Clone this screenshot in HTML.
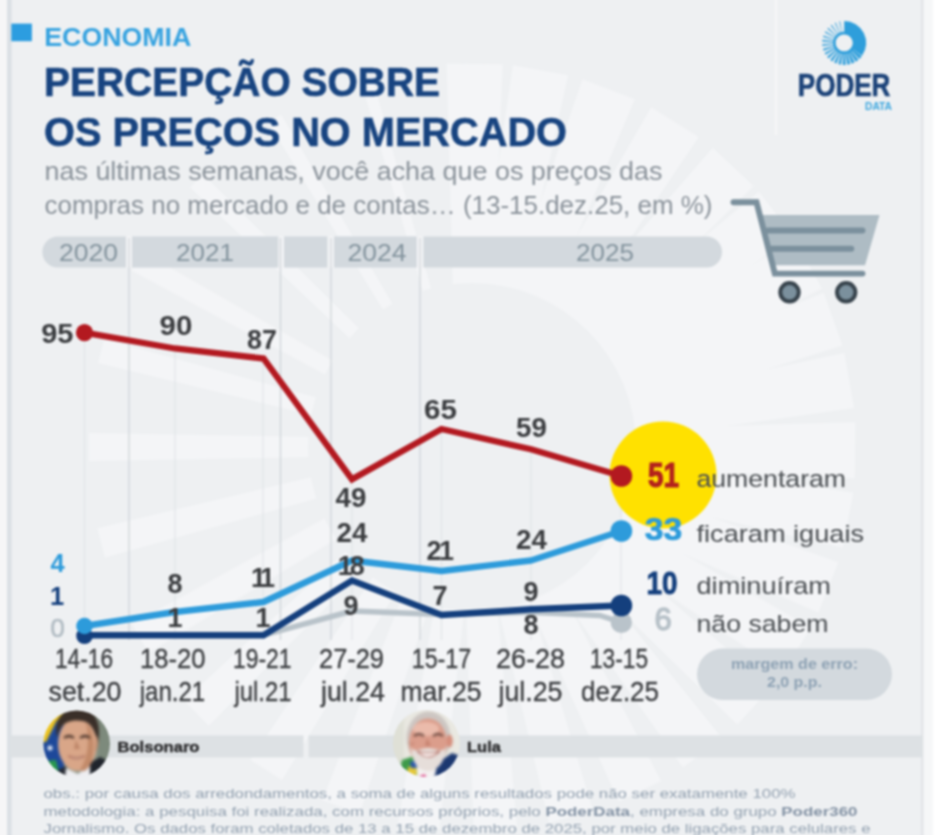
<!DOCTYPE html>
<html lang="pt-BR">
<head>
<meta charset="utf-8">
<title>Percepção sobre os preços no mercado</title>
<style>
html,body{margin:0;padding:0;background:#fbfbfb;}
body{width:936px;height:835px;overflow:hidden;position:relative;}
svg{display:block;position:absolute;left:0;top:0;}
text{font-family:"Liberation Sans",Arial,sans-serif;}
.b{font-weight:bold;}
.lab{font-weight:bold;font-size:27px;fill:#3b3d40;text-anchor:middle;}
.ax{font-size:27.5px;fill:#3d3f42;stroke:#3d3f42;stroke-width:0.35px;text-anchor:middle;}
.yr{font-size:24px;fill:#84949e;text-anchor:middle;}
.leg{font-size:24.5px;fill:#4a4e52;}
.big{font-size:34.5px;font-weight:bold;}
.foot{font-size:13.3px;fill:#94a2b1;}
.foot .b{fill:#8493a5;}
</style>
</head>
<body>
<svg id="g" width="936" height="835" viewBox="0 0 936 835">
<defs>
<filter id="soft" x="-5%" y="-5%" width="110%" height="110%" color-interpolation-filters="sRGB"><feGaussianBlur stdDeviation="0.8"/></filter>
<filter id="pblur" x="-10%" y="-10%" width="120%" height="120%" color-interpolation-filters="sRGB"><feGaussianBlur stdDeviation="1.1"/></filter>
<clipPath id="c1"><circle cx="76.7" cy="743.7" r="33.3"/></clipPath>
<clipPath id="c2"><circle cx="426.4" cy="743.5" r="33.5"/></clipPath>
</defs>
<g filter="url(#soft)">
<!-- page background -->
<rect x="-5" y="-5" width="946" height="845" fill="#fbfbfb"/>
<rect x="-5" y="-5" width="928" height="845" fill="#eef0f2"/>
<!-- watermark -->
<g fill="#f4f5f7">
<polygon points="451.8,287 492.2,287 500.0,64 444.0,64" transform="rotate(0.4 472 447)"/>
<polygon points="451.8,287 492.2,287 500.0,64 444.0,64" transform="rotate(10.3 472 447)"/>
<polygon points="451.8,287 492.2,287 500.0,64 444.0,64" transform="rotate(20.9 472 447)"/>
<polygon points="451.8,287 492.2,287 500.0,64 444.0,64" transform="rotate(32.0 472 447)"/>
<polygon points="451.8,287 492.2,287 500.0,64 444.0,64" transform="rotate(43.0 472 447)"/>
<polygon points="451.8,287 492.2,287 500.0,64 444.0,64" transform="rotate(52.5 472 447)"/>
<polygon points="451.8,287 492.2,287 500.0,64 444.0,64" transform="rotate(61.5 472 447)"/>
<polygon points="451.8,287 492.2,287 500.0,64 444.0,64" transform="rotate(70.5 472 447)"/>
<polygon points="451.8,287 492.2,287 500.0,64 444.0,64" transform="rotate(80.0 472 447)"/>
<polygon points="451.8,287 492.2,287 500.0,64 444.0,64" transform="rotate(90.5 472 447)"/>
<polygon points="451.9,287 492.1,287 499.9,64 444.1,64" transform="rotate(101.0 472 447)"/>
<polygon points="452.5,287 491.5,287 499.1,64 444.9,64" transform="rotate(111.5 472 447)"/>
<polygon points="453.1,287 490.9,287 498.2,64 445.8,64" transform="rotate(122.0 472 447)"/>
<polygon points="453.8,287 490.2,287 497.3,64 446.7,64" transform="rotate(132.5 472 447)"/>
<polygon points="454.4,287 489.6,287 496.5,64 447.5,64" transform="rotate(143.0 472 447)"/>
<polygon points="455.0,287 489.0,287 495.6,64 448.4,64" transform="rotate(154.0 472 447)"/>
<polygon points="455.7,287 488.3,287 494.6,64 449.4,64" transform="rotate(165.0 472 447)"/>
<polygon points="456.4,287 487.6,287 493.7,64 450.3,64" transform="rotate(176.5 472 447)"/>
<polygon points="457.1,287 486.9,287 492.8,64 451.2,64" transform="rotate(188.0 472 447)"/>
<polygon points="457.8,287 486.2,287 491.8,64 452.2,64" transform="rotate(200.0 472 447)"/>
<polygon points="458.5,287 485.5,287 490.7,64 453.3,64" transform="rotate(212.5 472 447)"/>
<polygon points="459.3,287 484.7,287 489.6,64 454.4,64" transform="rotate(226.0 472 447)"/>
<polygon points="460.1,287 483.9,287 488.5,64 455.5,64" transform="rotate(240.0 472 447)"/>
<polygon points="461.1,287 482.9,287 487.2,64 456.8,64" transform="rotate(255.5 472 447)"/>
<polygon points="461.9,287 482.1,287 486.0,64 458.0,64" transform="rotate(270.0 472 447)"/>
<polygon points="463.0,287 481.0,287 484.4,64 459.6,64" transform="rotate(284.5 472 447)"/>
<polygon points="464.2,287 479.8,287 482.9,64 461.1,64" transform="rotate(299.0 472 447)"/>
<polygon points="465.3,287 478.7,287 481.2,64 462.8,64" transform="rotate(314.0 472 447)"/>
<polygon points="466.5,287 477.5,287 479.6,64 464.4,64" transform="rotate(329.0 472 447)"/>
<polygon points="467.7,287 476.3,287 478.0,64 466.0,64" transform="rotate(344.0 472 447)"/>
</g>
<circle cx="472" cy="447" r="164" fill="#eef0f2"/>
<rect x="921.4" y="-5" width="2.2" height="845" fill="#dfe1e4"/>
<rect x="923.6" y="-5" width="10" height="845" fill="#f6f7f8"/>
<rect x="933" y="-5" width="10" height="845" fill="#ffffff"/>
<rect x="-5" y="-5" width="12" height="845" fill="#f6f6f7"/>
<rect x="7" y="-5" width="4.6" height="845" fill="#dbe0e5"/>
<rect x="775" y="-5" width="2" height="140" fill="#f6f7f8"/>

<!-- header -->
<rect x="11.3" y="23.6" width="20.6" height="17.6" fill="#2c9de0"/>
<text x="44.3" y="46.4" font-size="25.5" class="b" fill="#37a3e0" textLength="147" lengthAdjust="spacingAndGlyphs">ECONOMIA</text>
<text x="44" y="96.3" font-size="40.5" class="b" fill="#184480" stroke="#184480" stroke-width="0.6" textLength="396" lengthAdjust="spacingAndGlyphs">PERCEPÇÃO SOBRE</text>
<text x="44" y="146.3" font-size="40.5" class="b" fill="#184480" stroke="#184480" stroke-width="0.6" textLength="523" lengthAdjust="spacingAndGlyphs">OS PREÇOS NO MERCADO</text>
<text x="44.5" y="179.9" font-size="25.5" fill="#8b939b" textLength="618" lengthAdjust="spacingAndGlyphs">nas últimas semanas, você acha que os preços das</text>
<text x="44.5" y="214.3" font-size="25.5" fill="#8b939b" textLength="668" lengthAdjust="spacingAndGlyphs">compras no mercado e de contas… (13-15.dez.25, em %)</text>

<!-- cart -->
<polygon points="761.8,215 879.5,215 865,265.3 773,265.3" fill="#aebcc4"/>
<g fill="none" stroke="#7b909d" stroke-width="5.9" stroke-linecap="round" stroke-linejoin="miter">
<polyline points="733.5,202.2 756.5,202.2 774.8,273.6 862.5,273.6"/>
<line x1="768" y1="230.5" x2="862.5" y2="230.5"/>
<line x1="772" y1="248.7" x2="851.3" y2="248.7"/>
</g>
<circle cx="789.5" cy="292.3" r="9.2" fill="#7b909d" stroke="#38444d" stroke-width="4"/>
<circle cx="846.2" cy="292.3" r="9.2" fill="#7b909d" stroke="#38444d" stroke-width="4"/>
<!-- logo -->
<g fill="#2e9edb">
<polygon points="850.1,49.3 859.4,58.9 861.7,56.3 851.2,48.1"/>
<polygon points="848.7,50.4 855.8,61.7 858.5,59.7 849.9,49.5"/>
<polygon points="847.1,51.1 851.7,63.7 854.6,62.3 848.4,50.6"/>
<polygon points="845.3,51.6 847.3,64.7 850.3,64.1 846.7,51.3"/>
<polygon points="843.5,51.6 842.7,64.9 845.7,64.9 844.9,51.6"/>
<polygon points="841.8,51.3 838.3,64.1 841.0,64.7 843.0,51.5"/>
<polygon points="840.1,50.6 834.1,62.5 836.5,63.5 841.2,51.1"/>
<polygon points="838.6,49.6 830.3,60.0 832.3,61.4 839.5,50.3"/>
<polygon points="837.4,48.3 827.1,56.8 828.6,58.5 838.1,49.1"/>
<polygon points="836.4,46.8 824.6,53.0 825.7,54.8 836.9,47.7"/>
<polygon points="835.8,45.2 823.0,48.7 823.6,50.7 836.1,46.0"/>
<polygon points="835.5,43.4 822.2,44.3 822.4,46.1 835.6,44.2"/>
<polygon points="835.6,41.6 822.4,39.7 822.2,41.5 835.5,42.4"/>
<polygon points="836.0,39.9 823.5,35.4 823.0,36.9 835.8,40.5"/>
<polygon points="836.8,38.3 825.5,31.3 824.8,32.5 836.5,38.8"/>
<polygon points="837.9,36.9 828.3,27.7 827.4,28.7 837.5,37.3"/>
<polygon points="839.3,35.7 831.7,24.8 830.8,25.4 838.9,36.0"/>
<polygon points="840.9,34.9 835.7,22.6 834.8,23.0 840.4,35.0"/>
<polygon points="842.6,34.3 840.1,21.3 839.2,21.5 842.2,34.4"/>
</g>
<path d="M844.2 20.9A22 22 0 0 1 862.0 55.8L851.2 48.0A8.7 8.7 0 0 0 844.2 34.2Z" fill="#2e9edb"/>
<circle cx="844.2" cy="42.9" r="9.899999999999999" fill="none" stroke="#2e9edb" stroke-width="2.4"/>
<text x="797.8" y="95.8" font-size="32" class="b" fill="#1c4379" stroke="#1c4379" stroke-width="0.7" textLength="92.5" lengthAdjust="spacingAndGlyphs">PODER</text>
<text x="865" y="109.7" font-size="10.5" class="b" fill="#3aa5de" textLength="27" lengthAdjust="spacingAndGlyphs">DATA</text>
<!-- year bar -->
<rect x="125" y="236.4" width="300" height="31.2" fill="#f3f4f6"/>
<path d="M58 236.4H126V267.6H58A15.6 15.6 0 0 1 58 236.4Z" fill="#d3d9de"/>
<rect x="132" y="236.4" width="146.3" height="31.2" fill="#d3d9de"/>
<rect x="284" y="236.4" width="43.5" height="31.2" fill="#d3d9de"/>
<rect x="334" y="236.4" width="82.8" height="31.2" fill="#d3d9de"/>
<path d="M423.4 236.4H706.4A15.6 15.6 0 0 1 706.4 267.6H423.4Z" fill="#d3d9de"/>
<text x="88.5" y="261" class="yr" textLength="59" lengthAdjust="spacingAndGlyphs">2020</text>
<text x="205" y="261" class="yr" textLength="58" lengthAdjust="spacingAndGlyphs">2021</text>
<text x="377" y="261" class="yr" textLength="59" lengthAdjust="spacingAndGlyphs">2024</text>
<text x="605" y="261" class="yr" textLength="58" lengthAdjust="spacingAndGlyphs">2025</text>

<!-- grid -->
<g stroke="#d0d4d9" stroke-width="1.3">
<line x1="129" y1="238" x2="129" y2="640"/>
<line x1="280.5" y1="238" x2="280.5" y2="640"/>
<line x1="331" y1="238" x2="331" y2="640"/>
<line x1="420" y1="238" x2="420" y2="640"/>
</g>
<g stroke="#e1e4e8" stroke-width="1.2">
<line x1="84.5" y1="332.7" x2="84.5" y2="640"/>
<line x1="175" y1="348.5" x2="175" y2="640"/>
<line x1="263" y1="358.5" x2="263" y2="640"/>
<line x1="352" y1="479" x2="352" y2="640"/>
<line x1="441.5" y1="429" x2="441.5" y2="640"/>
<line x1="531" y1="448.5" x2="531" y2="640"/>
<line x1="621" y1="476" x2="621" y2="640"/>
</g>

<!-- yellow highlight -->
<circle cx="663" cy="475" r="53.5" fill="#ffe100"/>

<!-- series -->
<polyline points="263.5,635.2 352,611 441.5,614.6 531,612.2 600,615.5 621.4,622.4" fill="none" stroke="#b9c3ca" stroke-width="5.5" stroke-linejoin="round"/>
<circle cx="621.4" cy="622.4" r="10.6" fill="#b9c3ca"/>
<polyline points="84.5,635.2 263.5,635.2 352,580.5 441.5,615 531,609.3 621.4,605.5" fill="none" stroke="#143f7d" stroke-width="6.4" stroke-linejoin="miter"/>
<circle cx="84.5" cy="635.8" r="8.3" fill="#143f7d"/>
<circle cx="621.4" cy="605.5" r="10.8" fill="#143f7d"/>
<polyline points="84.5,626 175,612 263.5,602 352,560.5 441.5,571 531,560.5 621.4,531" fill="none" stroke="#2d9bdb" stroke-width="6.4" stroke-linejoin="round"/>
<circle cx="84.5" cy="626" r="8.3" fill="#2d9bdb"/>
<circle cx="621.4" cy="531" r="10.8" fill="#2d9bdb"/>
<polyline points="84.5,332.7 175,348.5 263.5,358.5 352,479.3 441.5,429 531,449.3 621.4,476" fill="none" stroke="#b31920" stroke-width="6.3" stroke-linejoin="miter"/>
<circle cx="84.5" cy="332.7" r="8.6" fill="#b31920"/>
<circle cx="621.4" cy="476" r="10.8" fill="#b31920"/>

<!-- point labels -->
<text x="57.3" y="343.1" class="lab" textLength="32.3" lengthAdjust="spacingAndGlyphs">95</text>
<text x="176" y="335.1" class="lab" textLength="32.8" lengthAdjust="spacingAndGlyphs">90</text>
<text x="262" y="349.1" class="lab" textLength="29.8" lengthAdjust="spacingAndGlyphs">87</text>
<text x="351" y="507.1" class="lab" textLength="30.8" lengthAdjust="spacingAndGlyphs">49</text>
<text x="440.5" y="418.6" class="lab" textLength="32.8" lengthAdjust="spacingAndGlyphs">65</text>
<text x="531.5" y="437.1" class="lab" textLength="30.8" lengthAdjust="spacingAndGlyphs">59</text>
<text x="352" y="542.1" class="lab" textLength="30.8" lengthAdjust="spacingAndGlyphs">24</text>
<text x="349.7" y="574.6" class="lab" style="letter-spacing:-3px">18</text>
<text x="351" y="615.1" class="lab">9</text>
<text x="175" y="593.1" class="lab">8</text>
<text x="175" y="627.1" class="lab">1</text>
<text x="260.7" y="587.1" class="lab" style="letter-spacing:-4.6px">11</text>
<text x="263" y="626.6" class="lab">1</text>
<text x="439" y="560.1" class="lab" style="letter-spacing:-2.5px">21</text>
<text x="440" y="605.1" class="lab">7</text>
<text x="531.5" y="549.1" class="lab" textLength="30.8" lengthAdjust="spacingAndGlyphs">24</text>
<text x="531" y="601.1" class="lab">9</text>
<text x="531" y="634.1" class="lab">8</text>
<text x="57.6" y="572.3" class="lab" style="fill:#2d9bdb;font-size:25.5px">4</text>
<text x="57" y="605.3" class="lab" style="fill:#143f7d;font-size:25.5px">1</text>
<text x="57.5" y="637.3" class="lab" style="fill:#b3bdc4;stroke:#b3bdc4;stroke-width:0.7px;font-weight:normal;font-size:25.5px">0</text>

<!-- legend -->
<text x="648" y="487.2" class="big" fill="#b3221c" stroke="#b3221c" stroke-width="1.2" textLength="31" lengthAdjust="spacingAndGlyphs">51</text>
<text x="696.5" y="486.5" class="leg" textLength="149.5" lengthAdjust="spacingAndGlyphs">aumentaram</text>
<text x="644.8" y="540.4" class="big" style="font-size:31px" fill="#2d9bdb" stroke="#2d9bdb" stroke-width="0.7" textLength="37.5" lengthAdjust="spacingAndGlyphs">33</text>
<text x="696.5" y="542" class="leg" textLength="167.5" lengthAdjust="spacingAndGlyphs">ficaram iguais</text>
<text x="646.5" y="594.3" class="big" style="font-size:31.5px" fill="#143f7d" stroke="#143f7d" stroke-width="0.9" textLength="31" lengthAdjust="spacingAndGlyphs">10</text>
<text x="696.5" y="593.7" class="leg" textLength="134.5" lengthAdjust="spacingAndGlyphs">diminuíram</text>
<text x="654.6" y="629.8" class="big" fill="#b7c1c8" stroke="#b7c1c8" stroke-width="1.3" style="font-weight:normal;font-size:31px">6</text>
<text x="696.5" y="631.5" class="leg" textLength="132" lengthAdjust="spacingAndGlyphs">não sabem</text>

<!-- margin pill -->
<rect x="697" y="648.5" width="195" height="51.5" rx="25.75" fill="#d3d9de"/>
<text x="794.5" y="668.6" font-size="15" class="b" fill="#8ea2b4" text-anchor="middle" textLength="127" lengthAdjust="spacingAndGlyphs">margem de erro:</text>
<text x="794.5" y="686.6" font-size="15" class="b" fill="#8ea2b4" text-anchor="middle" textLength="55" lengthAdjust="spacingAndGlyphs">2,0 p.p.</text>

<!-- x axis -->
<text x="84" y="667.7" class="ax" textLength="58" lengthAdjust="spacingAndGlyphs">14-16</text>
<text x="172.7" y="667.7" class="ax" textLength="65.5" lengthAdjust="spacingAndGlyphs">18-20</text>
<text x="262.3" y="667.7" class="ax" textLength="58.5" lengthAdjust="spacingAndGlyphs">19-21</text>
<text x="351.5" y="667.7" class="ax" textLength="65" lengthAdjust="spacingAndGlyphs">27-29</text>
<text x="441.5" y="667.7" class="ax" textLength="59.5" lengthAdjust="spacingAndGlyphs">15-17</text>
<text x="530.5" y="667.7" class="ax" textLength="69" lengthAdjust="spacingAndGlyphs">26-28</text>
<text x="619" y="667.7" class="ax" textLength="58" lengthAdjust="spacingAndGlyphs">13-15</text>
<text x="85" y="700.8" class="ax" textLength="73" lengthAdjust="spacingAndGlyphs">set.20</text>
<text x="172.5" y="700.8" class="ax" textLength="65.5" lengthAdjust="spacingAndGlyphs">jan.21</text>
<text x="263" y="700.8" class="ax" textLength="57" lengthAdjust="spacingAndGlyphs">jul.21</text>
<text x="353" y="700.8" class="ax" textLength="64" lengthAdjust="spacingAndGlyphs">jul.24</text>
<text x="441" y="700.8" class="ax" textLength="81" lengthAdjust="spacingAndGlyphs">mar.25</text>
<text x="530.5" y="700.8" class="ax" textLength="64" lengthAdjust="spacingAndGlyphs">jul.25</text>
<text x="620" y="700.8" class="ax" textLength="78" lengthAdjust="spacingAndGlyphs">dez.25</text>

<!-- president bar -->
<rect x="10" y="735.4" width="293.5" height="22" fill="#dde1e4"/>
<rect x="308.5" y="735.4" width="614.5" height="22" fill="#dde1e4"/>
<!-- photos -->
<g clip-path="url(#c1)">
<g filter="url(#pblur)">
<rect x="38" y="704" width="80" height="82" fill="#8b9688"/>
<rect x="98" y="704" width="20" height="82" fill="#7d8a7c"/>
<rect x="38" y="704" width="26" height="82" fill="#1d489a"/>
<polygon points="38,704 70,704 56,722 46,742 38,742" fill="#efc51f"/>
<polygon points="38,762 56,760 62,786 38,786" fill="#2a9a4d"/>
<circle cx="50" cy="748" r="2.5" fill="#e8eef8"/>
<path d="M84 786L88 764L100 757L114 764V786Z" fill="#20242c"/>
<path d="M52 786L58 770L66 766L70 786Z" fill="#272b33"/>
<path d="M64 786L66 768L78 774L90 764L90 786Z" fill="#eeeef1"/>
<ellipse cx="77.5" cy="744" rx="19.5" ry="27" fill="#d9a688"/>
<path d="M86 722C94 730 96 750 90 766C86 772 82 772 80 770C88 758 90 740 86 722Z" fill="#b9805f" opacity="0.75"/>
<path d="M57 738C53 716 66 707 80 708C95 709 102 722 98 744C96 734 93 727 88 723C80 719 68 720 62 726C59 730 58 734 57 738Z" fill="#3a2f29"/>
<path d="M96 736C99 738 99 748 95 752Z" fill="#c18c6e"/>
<path d="M64 738Q69 734 74 738" stroke="#4a342b" stroke-width="2.2" fill="none"/>
<path d="M80 738Q85 734 90 738" stroke="#4a342b" stroke-width="2.2" fill="none"/>
<path d="M76 740L74 749L80 749Z" fill="#bd8568"/>
<path d="M68 756Q76 762 85 756Q76 759 68 756Z" fill="#f6efec" stroke="#a86a58" stroke-width="1"/>
</g>
</g>
<g clip-path="url(#c2)">
<g filter="url(#pblur)">
<rect x="388" y="704" width="80" height="82" fill="#e9e8e1"/>
<rect x="388" y="704" width="16" height="82" fill="#dfe0d6"/>
<path d="M396 786L402 760L414 756L419 786Z" fill="#3d9a4a"/>
<path d="M403 782L409 766L417 769L415 786H403Z" fill="#e6c93a"/>
<path d="M410 762L416 760L417 768L411 768Z" fill="#2a56a8"/>
<path d="M430 786L436 764L452 753L466 758V786Z" fill="#1c3870"/>
<path d="M415 786L418 768L437 765L433 786Z" fill="#f4f2f2"/>
<path d="M420 776L425 774L428 786H420Z" fill="#df4f8c"/>
<ellipse cx="428.5" cy="738" rx="22" ry="26.5" fill="#cdc6c2"/>
<ellipse cx="449.5" cy="741" rx="3.2" ry="6.5" fill="#d58d7b"/>
<ellipse cx="428" cy="743" rx="19" ry="24.5" fill="#db9d8b"/>
<ellipse cx="426" cy="729" rx="13" ry="7" fill="#ebbbab"/>
<path d="M411 747C412 765 420 771 428 771C437 771 445 763 446 747C443 753 438 749 428 748C418 749 414 753 411 747Z" fill="#e6deda"/>
<path d="M417 751Q428 763 440 751Q428 755 417 751Z" fill="#fffdfc" stroke="#b06a60" stroke-width="1.1"/>
<path d="M414 736Q419 732 424 736" stroke="#5e4038" stroke-width="2" fill="none"/>
<path d="M433 736Q438 732 443 736" stroke="#5e4038" stroke-width="2" fill="none"/>
<path d="M427 738L425 746L431 746Z" fill="#c78270"/>
<path d="M409 742Q412 748 414 742" stroke="#c98a78" stroke-width="1.5" fill="none"/>
</g>
</g>
<text x="117.5" y="752.3" font-size="15" class="b" fill="#2b2b2d" stroke="#2b2b2d" stroke-width="0.4" textLength="82" lengthAdjust="spacingAndGlyphs">Bolsonaro</text>
<text x="467" y="751.8" font-size="15" class="b" fill="#2b2b2d" stroke="#2b2b2d" stroke-width="0.4" textLength="34" lengthAdjust="spacingAndGlyphs">Lula</text>

<!-- footer -->
<text x="43.5" y="798" class="foot" textLength="752" lengthAdjust="spacingAndGlyphs">obs.: por causa dos arredondamentos, a soma de alguns resultados pode não ser exatamente 100%</text>
<text x="43.5" y="815.9" class="foot" textLength="814" lengthAdjust="spacingAndGlyphs">metodologia: a pesquisa foi realizada, com recursos próprios, pelo <tspan class="b">PoderData</tspan>, empresa do grupo <tspan class="b">Poder360</tspan></text>
<text x="43.5" y="832.7" class="foot" textLength="827" lengthAdjust="spacingAndGlyphs">Jornalismo. Os dados foram coletados de 13 a 15 de dezembro de 2025, por meio de ligações para celulares e</text>
</g>
</svg>
</body>
</html>
